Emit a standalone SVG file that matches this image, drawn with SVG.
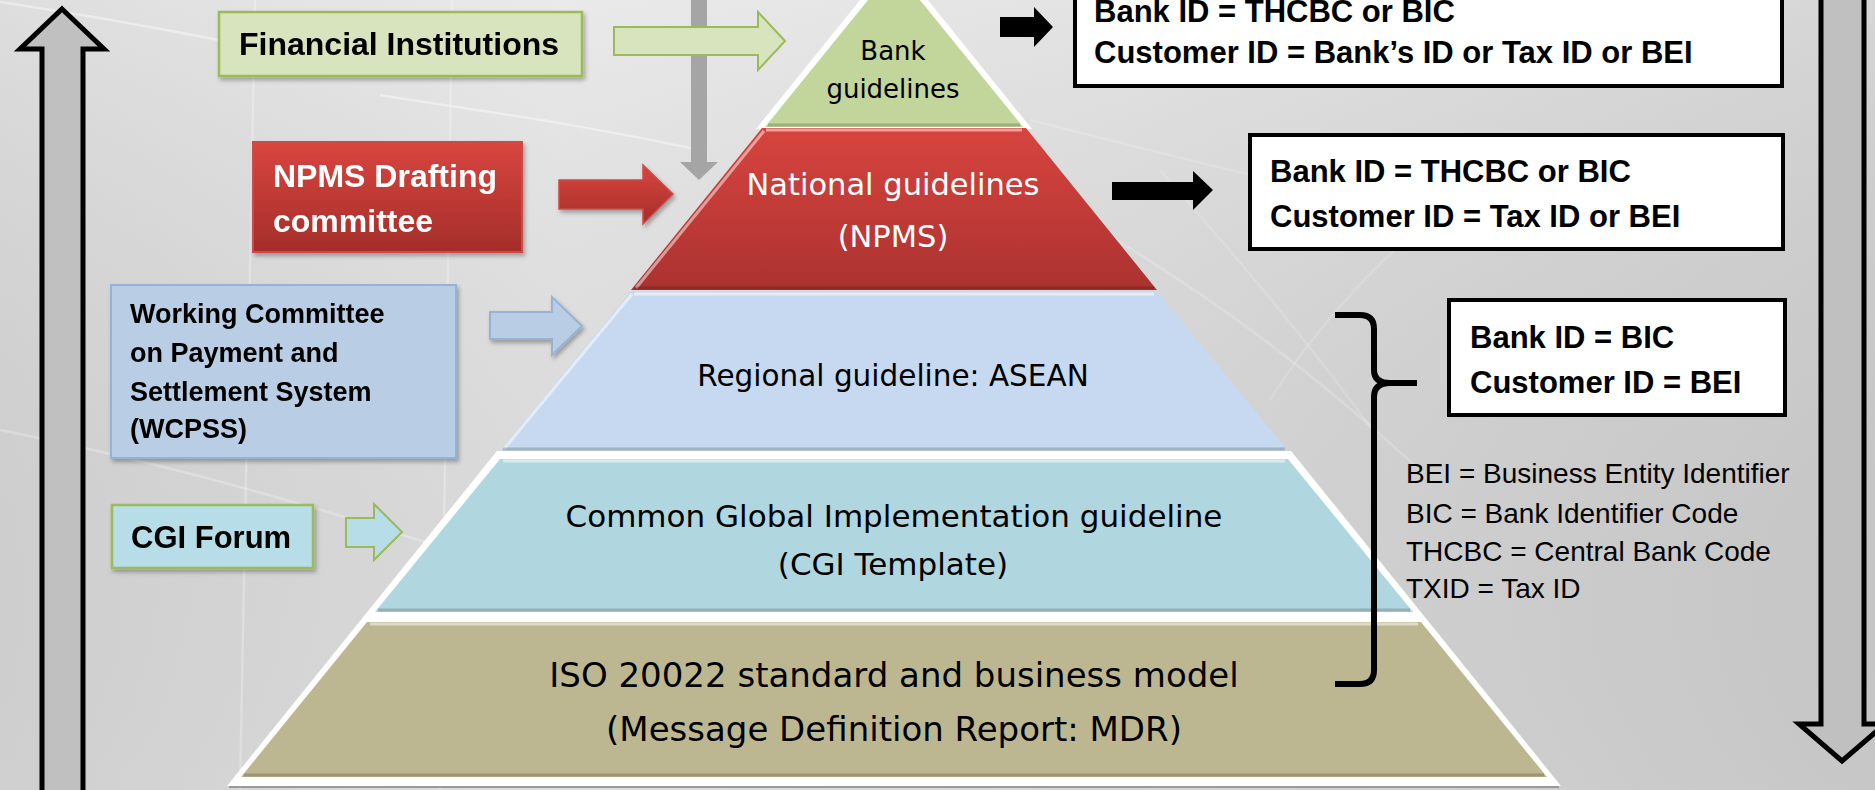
<svg xmlns="http://www.w3.org/2000/svg" width="1875" height="790" viewBox="0 0 1875 790">
  <defs>
    <linearGradient id="bg" x1="0" y1="0" x2="1" y2="0">
      <stop offset="0" stop-color="#d8d8d8"/>
      <stop offset="0.3" stop-color="#e6e6e6"/>
      <stop offset="0.6" stop-color="#dedede"/>
      <stop offset="1" stop-color="#cfcfcf"/>
    </linearGradient>
    <linearGradient id="bgv" x1="0" y1="0" x2="0" y2="1">
      <stop offset="0" stop-color="#ffffff" stop-opacity="0.15"/>
      <stop offset="1" stop-color="#000000" stop-opacity="0.04"/>
    </linearGradient>
    <linearGradient id="redFill" x1="0" y1="0" x2="0" y2="1">
      <stop offset="0" stop-color="#d9463f"/>
      <stop offset="1" stop-color="#a42d2a"/>
    </linearGradient>
    <linearGradient id="redLayer" x1="0" y1="0" x2="0" y2="1">
      <stop offset="0" stop-color="#d8443f"/>
      <stop offset="1" stop-color="#ab3230"/>
    </linearGradient>
    <filter id="shadow" x="-10%" y="-10%" width="130%" height="140%">
      <feDropShadow dx="2" dy="3" stdDeviation="2" flood-color="#000" flood-opacity="0.3"/>
    </filter>
    <style>
      .lbl { font-family: "Liberation Sans", Arial, sans-serif; font-weight: bold; fill: #000; }
      .def { font-family: "Liberation Sans", Arial, sans-serif; font-size: 28px; fill: #000; }
      .pyr { font-family: "DejaVu Sans", Verdana, sans-serif; fill: #000; text-anchor: middle; }
      .idbox { fill: #fff; stroke: #000; stroke-width: 4; }
      .bigarrow { fill: #c0c0c0; stroke: #000; stroke-width: 5; stroke-linejoin: miter; }
      .hi { fill: none; stroke: #fff; stroke-opacity: 0.5; stroke-width: 3; }
      .lo { fill: none; stroke: #000; stroke-opacity: 0.18; stroke-width: 3; }
    </style>
  </defs>

  <!-- backdrop -->
  <rect x="0" y="0" width="1875" height="790" fill="url(#bg)"/>
  <rect x="0" y="0" width="1875" height="790" fill="url(#bgv)"/>
  <g fill="none" stroke="#ffffff" stroke-opacity="0.4" stroke-width="2.5">
    <path d="M0,2 C120,20 220,40 330,62"/>
    <path d="M380,95 C470,110 560,120 700,150"/>
    <path d="M255,0 C250,250 245,500 240,790" stroke-opacity="0.25"/>
    <path d="M452,0 C448,250 444,500 440,790" stroke-opacity="0.25"/>
    <path d="M0,430 C150,460 300,500 480,560" stroke-opacity="0.25"/>
    <path d="M1100,230 C1200,290 1300,360 1420,470" stroke-opacity="0.18"/>
    <path d="M1160,170 C1230,250 1300,330 1380,440" stroke-opacity="0.15"/>
    <path d="M1450,200 C1380,260 1320,320 1270,400" stroke-opacity="0.15"/>
    <path d="M1030,120 C1150,150 1300,190 1500,230" stroke-opacity="0.15"/>
  </g>

  <!-- side direction arrows -->
  <g id="arrow-up">
    <polygon class="bigarrow" points="62,9 104,49 83,49 83,800 42,800 42,49 20,49"/>
  </g>
  <g id="arrow-down">
    <polygon class="bigarrow" points="1821,-10 1864,-10 1864,724 1885,724 1842,761 1799,724 1821,724"/>
  </g>

  <!-- pyramid -->
  <g id="pyramid">
    <g id="layer-bank">
      <polygon points="894,-42 756,129 1032,129" fill="#ffffff"/>
      <polygon points="894,-32 765,127 1023,127" fill="#c2d59b"/>
      <line class="lo" x1="768" y1="125" x2="1020" y2="125"/>
      <text class="pyr" x="893" y="60" font-size="26">Bank</text>
      <text class="pyr" x="893" y="98" font-size="26">guidelines</text>
    </g>
    <g id="layer-national">
      <polygon points="762,128 1026,128 1157,290 631,290" fill="url(#redLayer)"/>
      <line class="hi" x1="766" y1="130" x2="1022" y2="130"/>
      <line class="hi" x1="764" y1="131" x2="636" y2="288" stroke-opacity="0.3"/>
      <line class="lo" x1="634" y1="288" x2="1154" y2="288"/>
      <text class="pyr" x="893" y="195" font-size="30.5" style="fill:#ffffff">National guidelines</text>
      <text class="pyr" x="893" y="247" font-size="30.5" style="fill:#ffffff">(NPMS)</text>
    </g>
    <g id="layer-regional">
      <polygon points="631,291 1157,291 1288,451 500,451" fill="#c6d9f0"/>
      <line class="hi" x1="634" y1="294" x2="1154" y2="294" stroke-opacity="0.8"/>
      <line class="hi" x1="632" y1="294" x2="504" y2="449" stroke-opacity="0.6"/>
      <line class="lo" x1="503" y1="449" x2="1285" y2="449"/>
      <text class="pyr" x="893" y="386" font-size="29.5">Regional guideline: ASEAN</text>
    </g>
    <!-- white surround of the two base tiers -->
    <polygon points="497,451 1291,451 1561,786 227,786" fill="#ffffff"/>
    <line x1="229" y1="787" x2="1559" y2="787" stroke="#9a9a9a" stroke-width="2"/>
    <g id="layer-cgi">
      <polygon points="500,459 1288,459 1413,612 375,612" fill="#b0d6df"/>
      <line class="hi" x1="503" y1="461" x2="1285" y2="461" stroke="#d6f0f6" stroke-opacity="1"/>
      <line class="lo" x1="378" y1="610" x2="1410" y2="610"/>
      <text class="pyr" x="894" y="527" font-size="31">Common Global Implementation guideline</text>
      <text class="pyr" x="893" y="575" font-size="31">(CGI Template)</text>
    </g>
    <g id="layer-iso">
      <polygon points="367,622 1421,622 1547,777 241,777" fill="#bdb791"/>
      <line class="hi" x1="370" y1="624" x2="1418" y2="624" stroke="#d8d2a8" stroke-opacity="1"/>
      <line class="lo" x1="244" y1="775" x2="1544" y2="775" stroke-opacity="0.3"/>
      <text class="pyr" x="894" y="687" font-size="34">ISO 20022 standard and business model</text>
      <text class="pyr" x="894" y="741" font-size="34">(Message Definition Report: MDR)</text>
    </g>
  </g>

  <!-- contributing bodies -->
  <g id="node-fi" filter="url(#shadow)">
    <rect x="219" y="12" width="363" height="64" fill="#d7e4bd" stroke="#9bbb59" stroke-width="2.5"/>
    <text class="lbl" x="239" y="55" font-size="32">Financial Institutions</text>
  </g>
  <g id="node-npms" filter="url(#shadow)">
    <rect x="253" y="142" width="269" height="110" fill="url(#redFill)" stroke="#cf4a46" stroke-width="2"/>
    <text class="lbl" x="273" y="187" font-size="32" style="fill:#ffffff">NPMS Drafting</text>
    <text class="lbl" x="273" y="232" font-size="32" style="fill:#ffffff">committee</text>
  </g>
  <g id="node-wcpss" filter="url(#shadow)">
    <rect x="111" y="285" width="345" height="173" fill="#b9cde5" stroke="#95b3d7" stroke-width="2"/>
    <text class="lbl" x="130" y="323" font-size="27">Working Committee</text>
    <text class="lbl" x="130" y="362" font-size="27">on Payment and</text>
    <text class="lbl" x="130" y="401" font-size="27">Settlement System</text>
    <text class="lbl" x="130" y="438" font-size="27">(WCPSS)</text>
  </g>
  <g id="node-cgi" filter="url(#shadow)">
    <rect x="112" y="505" width="201" height="63" fill="#b7dee8" stroke="#9bbb59" stroke-width="2.5"/>
    <text class="lbl" x="131" y="548" font-size="31">CGI Forum</text>
  </g>

  <!-- identifier boxes -->
  <g id="node-bank-ids">
    <rect class="idbox" x="1075" y="-10" width="707" height="96"/>
    <text class="lbl" x="1094" y="22" font-size="31">Bank ID = THCBC or BIC</text>
    <text class="lbl" x="1094" y="63" font-size="31">Customer ID = Bank’s ID or Tax ID or BEI</text>
  </g>
  <g id="node-national-ids">
    <rect class="idbox" x="1250" y="135" width="533" height="114"/>
    <text class="lbl" x="1270" y="182" font-size="31">Bank ID = THCBC or BIC</text>
    <text class="lbl" x="1270" y="227" font-size="31">Customer ID = Tax ID or BEI</text>
  </g>
  <g id="node-regional-ids">
    <rect class="idbox" x="1449" y="300" width="336" height="115"/>
    <text class="lbl" x="1470" y="348" font-size="31">Bank ID = BIC</text>
    <text class="lbl" x="1470" y="393" font-size="31">Customer ID = BEI</text>
  </g>

  <!-- abbreviations -->
  <g id="legend">
    <text class="def" x="1406" y="483">BEI = Business Entity Identifier</text>
    <text class="def" x="1406" y="523">BIC = Bank Identifier Code</text>
    <text class="def" x="1406" y="561">THCBC = Central Bank Code</text>
    <text class="def" x="1406" y="598">TXID = Tax ID</text>
  </g>

  <!-- connectors -->
  <g id="connectors">
    <polygon points="691,-5 707,-5 707,162 718,162 699,180 680,162 691,162" fill="#a5a5a5"/>
    <polygon points="614,27 758,27 758,12 785,41 758,70 758,55 614,55" fill="#d7e4bd" stroke="#9bbb59" stroke-width="2"/>
    <polygon points="559,180 643,180 643,165 673,194 643,224 643,209 559,209" fill="url(#redFill)" stroke="#cf4a46" stroke-width="1.5" filter="url(#shadow)"/>
    <polygon points="490,312 552,312 552,297 582,326 552,355 552,339 490,339" fill="#b9cde5" stroke="#95b3d7" stroke-width="2" filter="url(#shadow)"/>
    <polygon points="346,518 374,518 374,504 402,532 374,560 374,547 346,547" fill="#b7dee8" stroke="#9bbb59" stroke-width="2"/>
    <polygon points="1000,17 1034,17 1034,7 1053,27 1034,47 1034,37 1000,37" fill="#000"/>
    <polygon points="1112,182 1193,182 1193,171 1213,190 1193,210 1193,200 1112,200" fill="#000"/>
    <path d="M1335,315 L1360,315 Q1374,315 1374,329 L1374,370 Q1374,383 1390,383 L1417,383 M1390,383 Q1374,383 1374,397 L1374,670 Q1374,684 1360,684 L1335,684" fill="none" stroke="#000" stroke-width="6"/>
  </g>
</svg>
